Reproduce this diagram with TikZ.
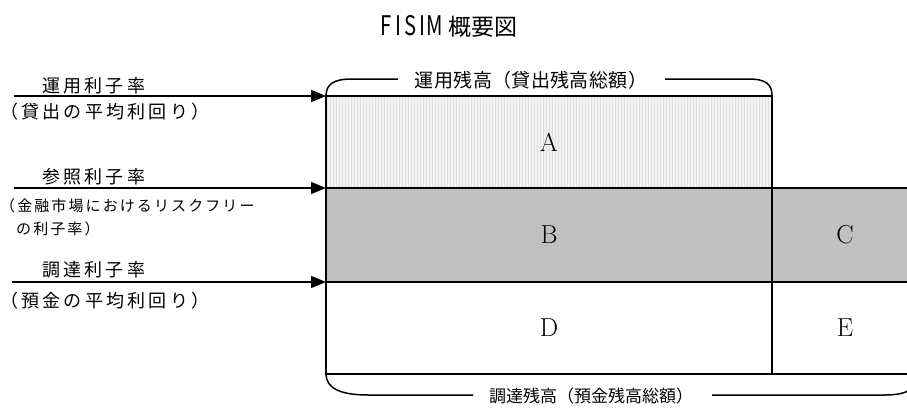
\documentclass[tikz,border=0pt]{standalone}
\usepackage{fontspec}
\usepackage{graphicx}
\newfontfamily\jp{Noto Sans CJK JP}
\newfontfamily\jpwide{Noto Sans CJK JP}[LetterSpace=18]
\newfontfamily\jpsmall{Noto Sans CJK JP}[LetterSpace=14]
\newfontfamily\jpbrace{Noto Sans CJK JP}[LetterSpace=2]
\usetikzlibrary{arrows.meta,patterns}
\definecolor{bandgray}{HTML}{C0C0C0}
\definecolor{paleA}{HTML}{F2F2F2}
\definecolor{stripeA}{HTML}{E0E0E0}
\newcommand\tch[1]{\makebox[12pt]{\scalebox{0.75}[1]{#1}}}
\begin{document}
\begin{tikzpicture}[x=1pt,y=-1pt,
  region/.style={draw=black,line width=2.4pt,rectangle,inner sep=0pt,outer sep=0pt,anchor=north west,font=\fontsize{26}{30}\selectfont},
  bracket/.style={draw=black,line width=1.5pt},
  rate/.style={draw=black,line width=1.6pt,-{Triangle[length=15pt,width=12pt]}},
  bigjp/.style={anchor=west,inner sep=0pt,font=\jpwide\fontsize{18}{20}\selectfont},
  smalljp/.style={anchor=west,inner sep=0pt,font=\jpsmall\fontsize{15}{17}\selectfont}]
\useasboundingbox (0,0) rectangle (907,407);
\clip (0,0) rectangle (907,407);
% title
\node[inner sep=0pt,font=\jp] (title) at (449,26) {{\fontsize{27}{30}\selectfont\tch{F}\tch{I}\tch{S}\tch{I}\tch{M}}\hspace{8pt}{\fontsize{23}{26}\selectfont 概要図}};
% shaded area A
\fill[paleA] (326,96) rectangle (772,188);
\fill[pattern=vertical lines,pattern color=stripeA] (326,96) rectangle (772,188);
% regions
\node[region,minimum width=446pt,minimum height=92pt] (A) at (326,96) {A};
\node[region,fill=bandgray,minimum width=446pt,minimum height=94pt] (B) at (326,188) {B};
\node[region,fill=bandgray,minimum width=146pt,minimum height=94pt] (C) at (772,188) {C};
\node[region,minimum width=446pt,minimum height=92pt] (D) at (326,282) {D};
\node[region,minimum width=146pt,minimum height=92pt] (E) at (772,282) {E};
% top brace
\node[inner sep=0pt,font=\jpbrace\fontsize{19}{21}\selectfont] (toplab) at (531,80) {運用残高（貸出残高総額）};
\draw[bracket] (A.north west) .. controls (326,84) and (334,79) .. (352,79) -- (398,79);
\draw[bracket] (665,79) -- (748,79) .. controls (766,79) and (772,84) .. (A.north east);
% bottom brace
\node[inner sep=0pt,font=\jp\fontsize{17}{19}\selectfont] (botlab) at (591,396) {調達残高（預金残高総額）};
\draw[bracket] (D.south west) .. controls (326,388) and (340,395) .. (368,395) -- (473,395);
\draw[bracket] (712,395) -- (885,395) .. controls (908,395) and (918,388) .. (E.south east);
% rate arrows
\coordinate (s1) at (14,96);
\coordinate (s2) at (14,188);
\coordinate (s3) at (12,282);
\draw[rate] (s1) -- (A.north west);
\draw[rate] (s2) -- (B.north west);
\draw[rate] (s3) -- (D.north west);
% labels
\node[bigjp] (l1) at (42,86) {運用利子率};
\node[bigjp] (l1b) at (0,112) {（貸出の平均利回り）};
\node[bigjp] (l2) at (42,177) {参照利子率};
\node[smalljp] (l2b) at (0,206) {（金融市場におけるリスクフリー};
\node[smalljp] (l2c) at (16,229) {の利子率）};
\node[bigjp] (l3) at (42,270) {調達利子率};
\node[bigjp] (l3b) at (0,301) {（預金の平均利回り）};
\end{tikzpicture}
\end{document}
